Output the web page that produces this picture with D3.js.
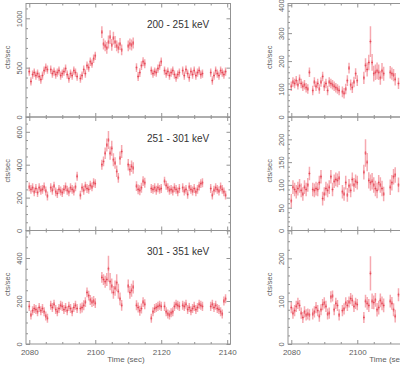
<!DOCTYPE html>
<html>
<head>
<meta charset="utf-8">
<script src="https://cdn.jsdelivr.net/npm/d3@7"></script>
<style>
body { margin: 0; background: #fff; }
svg text { font-family: "Liberation Sans", Arial, Helvetica, sans-serif; }
</style>
</head>
<body>
<svg id="chart" width="400" height="365"></svg>
<script>
// start time of each continuous data stretch (same gaps in every band)
const segStart = [2080, 2086.5, 2095.5, 2102, 2110, 2112.5, 2117, 2121, 2126.5, 2135];
const binWidth = 0.5;
const timeDomain = [2079, 2141];
const timeTicks = [2080, 2100, 2120, 2140];

// left column
const rates200 = [
	[460,360,430,450,420,440,410,380,420,470,500,480],
	[480,440,460,430,450,470,420,440,460,490,430,390,440,420,470,450,410],
	[390,420,480,440,520,500,560,540,590,620],
	[860,740,720,700,760,810,730,800,760,720,700,740,680],
	[720,740,730,750],
	[500,410,450,520,560,540],
	[470,440,460,450,490,520,560],
	[470,440,460,420,450,470,430,400,430,450],
	[470,420,480,440,400,460,430,470,420,450,470,430,440],
	[450,370,420,470,440,420,470,450,430,460]
];
const errs200 = [42,42,42,[60,55,55,60,65,70,60,65,60,55,55,60,55],55,45,42,42,42,42];

const rates251 = [
	[265,250,260,235,255,230,260,245,250,265,240,210],
	[260,245,270,235,225,250,240,230,250,265,245,235,260,250,240,265,330],
	[215,260,245,270,255,250,275,265,290,285],
	[400,420,470,520,550,470,500,430,410,360,320,440,480],
	[400,370,390,380],
	[270,250,245,260,300,290],
	[255,250,260,245,260,250,255],
	[300,275,260,245,250,240,260,250,235,255],
	[260,240,250,220,265,250,240,255,235,250,270,285,290],
	[255,215,245,260,250,240,265,250,235,215]
];
const errs251 = [27,27,27,[30,30,35,40,55,40,45,40,35,35,30,40,40],35,30,27,27,27,27];

const rates301 = [
	[175,135,155,165,160,150,170,155,165,150,130,120],
	[180,170,185,160,150,165,180,175,160,170,155,175,165,150,170,180,165],
	[165,170,180,195,240,225,205,195,200,190],
	[310,300,290,300,350,290,270,240,260,285,245,210,180],
	[270,240,250,265],
	[180,170,155,165,195,185],
	[120,150,165,170,175,180,175],
	[175,150,140,135,145,150,175,185,180,175],
	[180,175,185,160,170,155,165,175,160,170,185,180,175],
	[175,185,170,180,165,160,150,140,200,210]
];
const errs301 = [21,21,23,[25,25,28,30,60,40,35,30,35,40,35,30,25],30,23,21,21,21,21];

// right column (cut off at the page edge)
const ratesR1 = [
	[110,125,120,130,115,135,120,110,115,105,100,160],
	[95,125,110,120,100,125,145,110,120,95,125,120,115,110,105,100,95],
	[90,85,100,130,175,115,105,125,155,130],
	[140,185,170,195,270,195,155,160,165,160,140,165,155],
	[160,155,150,135],
	[120]
];
const errsR1 = [17,17,19,[22,25,25,28,55,30,28,28,30,28,25,28,25],22,20];

const ratesR2 = [
	[65,95,90,85,92,98,88,80,95,90,100,125],
	[90,88,92,90,105,118,70,80,92,88,95,118,90,108,112,110,115],
	[85,80,105,78,98,88,112,100,108,105],
	[128,170,150,110,105,108,100,92,88,105,100,92,80],
	[95,105,118,122],
	[100]
];
const errsR2 = [15,15,15,[16,30,20,18,18,18,17,17,17,17,17,17,16],17,16];

const ratesR3 = [
	[85,72,78,88,95,90,72,62,75,68,70,68],
	[70,75,85,78,65,80,92,96,88,70,72,110,112,80,95,90,68],
	[78,82,96,90,98,106,102,88,95,92],
	[62,100,95,90,165,100,97,103,80,85,102,95,90],
	[100,95,80,65],
	[115]
];
const errsR3 = [13,13,13,[13,15,15,15,40,18,16,16,16,16,16,16,16],15,15];

const bandLabels = ["200 - 251 keV", "251 - 301 keV", "301 - 351 keV"];

const panels = [
	{col:0, row:0, rates:rates200, errs:errs200, ymax:1150, major:500, minor:100, label:bandLabels[0]},
	{col:0, row:1, rates:rates251, errs:errs251, ymax:690, major:200, minor:50, label:bandLabels[1]},
	{col:0, row:2, rates:rates301, errs:errs301, ymax:528, major:200, minor:50, label:bandLabels[2]},
	{col:1, row:0, rates:ratesR1, errs:errsR1, ymax:406, major:100, minor:20},
	{col:1, row:1, rates:ratesR2, errs:errsR2, ymax:249, major:50, minor:10},
	{col:1, row:2, rates:ratesR3, errs:errsR3, ymax:265, major:100, minor:20}
];

const colX = [26, 288], colW = 204.5;
const rowY = [3.5, 117, 230.5], rowH = 113.5;
const frameColor = "#939393", labelColor = "#5e5e5e";

const svg = d3.select("#chart");

function flatten(p) {
	let pts = [];
	p.rates.forEach((seg, s) => {
		seg.forEach((v, i) => {
			let e = Array.isArray(p.errs[s]) ? p.errs[s][i] : p.errs[s];
			pts.push({t: segStart[s] + i*binWidth, v: v, e: e});
		});
	});
	return pts;
}

panels.forEach((p, k) => {
	const x0 = colX[p.col], y0 = rowY[p.row];
	const x = d3.scaleLinear().domain(timeDomain).range([x0, x0 + colW]);
	const y = d3.scaleLinear().domain([0, p.ymax]).range([y0 + rowH, y0]);
	const g = svg.append("g");

	g.append("clipPath").attr("id", "clip" + k)
		.append("rect").attr("x", x0).attr("y", y0).attr("width", colW).attr("height", rowH);

	const pts = flatten(p);
	const marks = g.append("g").attr("clip-path", "url(#clip" + k + ")");

	// error bars
	marks.selectAll("line.err").data(pts).join("line")
		.attr("class", "err")
		.attr("x1", d => x(d.t)).attr("x2", d => x(d.t))
		.attr("y1", d => y(d.v - d.e)).attr("y2", d => y(d.v + d.e))
		.style("stroke", "#f6a9b0")
		.style("stroke-width", 1.5);

	// slightly darker core around the value
	marks.selectAll("line.core").data(pts).join("line")
		.attr("class", "core")
		.attr("x1", d => x(d.t)).attr("x2", d => x(d.t))
		.attr("y1", d => y(d.v) - 2).attr("y2", d => y(d.v) + 2)
		.style("stroke", "#ef7883")
		.style("stroke-width", 1.2);

	marks.selectAll("line.pt").data(pts).join("line")
		.attr("class", "pt")
		.attr("x1", d => x(d.t - binWidth/2)).attr("x2", d => x(d.t + binWidth/2))
		.attr("y1", d => y(d.v)).attr("y2", d => y(d.v))
		.style("stroke", "#e34654")
		.style("stroke-width", 1);

	// axes
	const yMajor = d3.range(0, p.ymax + 1e-6, p.major);
	const yMinor = d3.range(0, p.ymax + 1e-6, p.minor).filter(v => yMajor.indexOf(v) < 0);
	const xMinor = d3.range(2080, 2141, 5).filter(v => timeTicks.indexOf(v) < 0);

	function styleAxis(sel) {
		sel.select(".domain").remove();
		sel.selectAll("line").style("stroke", frameColor);
	}

	const left = g.append("g").attr("transform", `translate(${x0},0)`)
		.call(d3.axisLeft(y).tickValues(yMajor).tickFormat(d3.format("d"))
			.tickSizeInner(-4).tickSizeOuter(0).tickPadding(4));
	styleAxis(left);
	left.selectAll("text")
		.attr("x", 0).attr("y", -4.5).attr("dy", 0)
		.attr("transform", "rotate(-90)")
		.attr("text-anchor", "middle")
		.style("font-size", "7.5px").style("fill", labelColor);

	g.append("g").attr("transform", `translate(${x0},0)`)
		.call(d3.axisLeft(y).tickValues(yMinor).tickSizeInner(-2).tickSizeOuter(0).tickFormat(""))
		.call(styleAxis);
	g.append("g").attr("transform", `translate(${x0 + colW},0)`)
		.call(d3.axisRight(y).tickValues(yMajor).tickSizeInner(-4).tickSizeOuter(0).tickFormat(""))
		.call(styleAxis);
	g.append("g").attr("transform", `translate(${x0 + colW},0)`)
		.call(d3.axisRight(y).tickValues(yMinor).tickSizeInner(-2).tickSizeOuter(0).tickFormat(""))
		.call(styleAxis);

	g.append("g").attr("transform", `translate(0,${y0})`)
		.call(d3.axisTop(x).tickValues(timeTicks).tickSizeInner(-4).tickSizeOuter(0).tickFormat(""))
		.call(styleAxis);
	g.append("g").attr("transform", `translate(0,${y0})`)
		.call(d3.axisTop(x).tickValues(xMinor).tickSizeInner(-2).tickSizeOuter(0).tickFormat(""))
		.call(styleAxis);

	// only the labels that land on the page are written
	const bottom = g.append("g").attr("transform", `translate(0,${y0 + rowH})`)
		.call(d3.axisBottom(x).tickValues(timeTicks.filter(t => x(t) < 395)).tickSizeInner(-4).tickSizeOuter(0).tickPadding(5)
			.tickFormat(p.row == 2 ? d3.format("d") : ""));
	styleAxis(bottom);
	bottom.selectAll("text").style("font-size", "8px").style("fill", labelColor);
	g.append("g").attr("transform", `translate(0,${y0 + rowH})`)
		.call(d3.axisBottom(x).tickValues(xMinor).tickSizeInner(-2).tickSizeOuter(0).tickFormat(""))
		.call(styleAxis);

	// frame
	g.append("rect")
		.attr("x", x0).attr("y", y0).attr("width", colW).attr("height", rowH)
		.style("fill", "none").style("stroke", frameColor).style("stroke-width", 1);

	// y title
	g.append("text")
		.attr("transform", `translate(${x0 - 16},${y0 + rowH/2 - 3}) rotate(-90)`)
		.attr("text-anchor", "middle")
		.style("font-size", "7.5px").style("fill", labelColor)
		.text("cts/sec");

	if (p.label) {
		g.append("text")
			.attr("x", x0 + 121).attr("y", y0 + 24.5)
			.style("font-size", "10px").style("fill", "#333")
			.text(p.label);
	}

	if (p.row == 2) {
		g.append("text")
			.attr("x", x0 + 100).attr("y", y0 + rowH + 18)
			.attr("text-anchor", "middle")
			.style("font-size", "8px").style("fill", labelColor)
			.text("Time (sec)");
	}
});
</script>
</body>
</html>
